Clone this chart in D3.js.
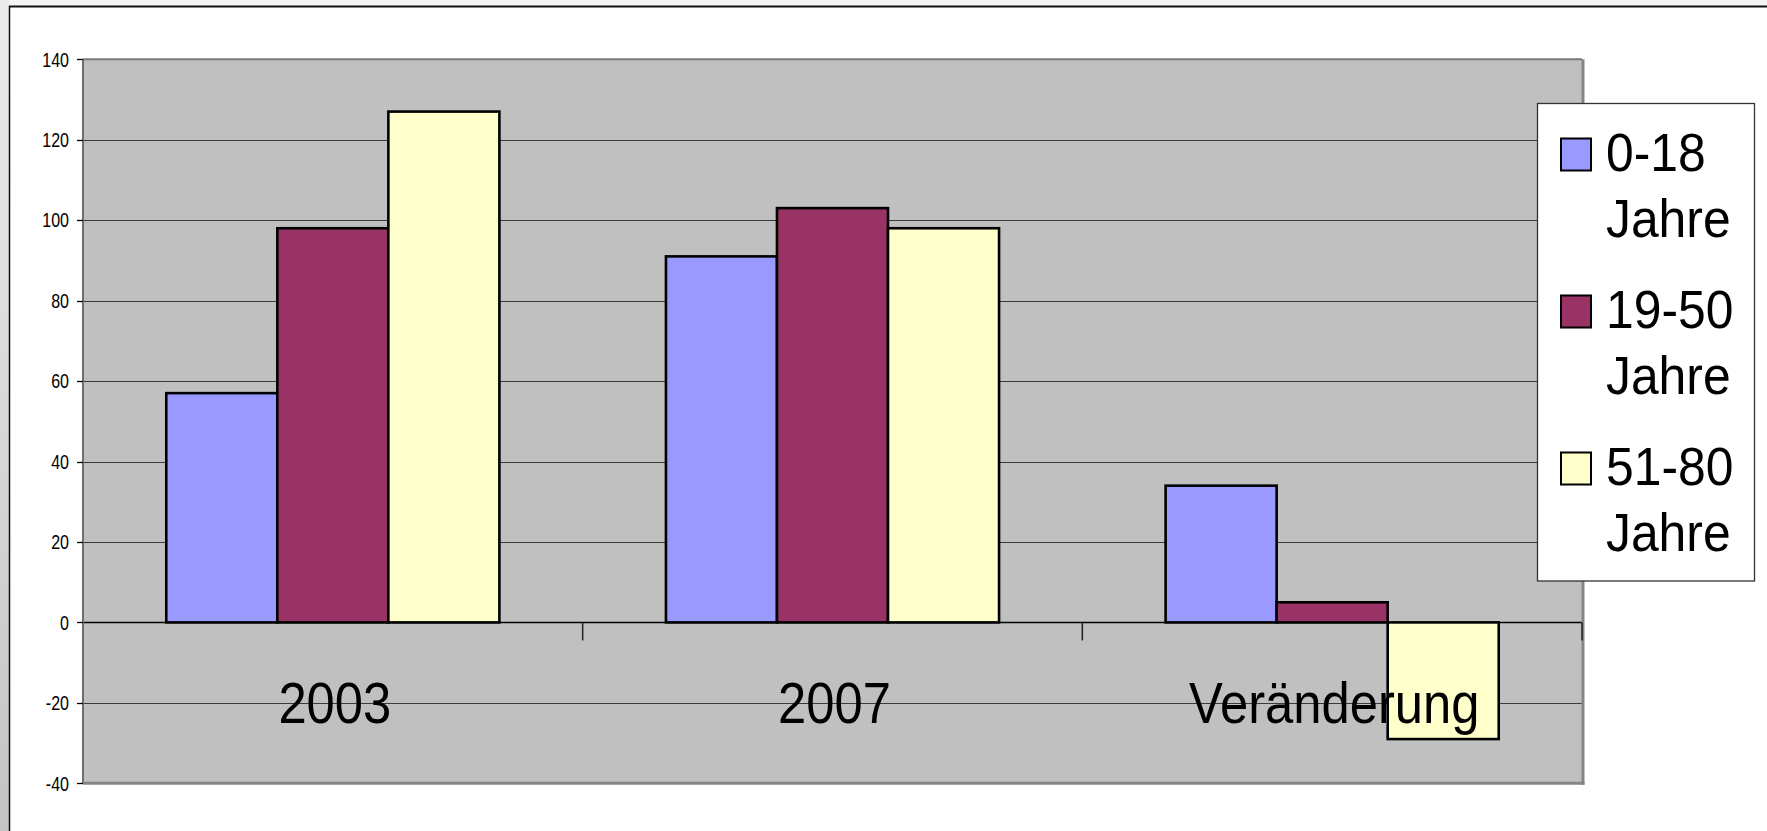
<!DOCTYPE html>
<html>
<head>
<meta charset="utf-8">
<script src="https://cdn.jsdelivr.net/npm/d3@7/dist/d3.min.js"></script>
<style>
  html, body { margin: 0; padding: 0; background: #f4f4f4; }
  svg { display: block; }
  text { font-family: "Liberation Sans", Arial, sans-serif; fill: #000; }
</style>
</head>
<body>
<svg id="chart" width="1767" height="831"></svg>
<script>
// ---- data ----
const categories = ["2003", "2007", "Veränderung"];
const seriesNames = ["0-18 Jahre", "19-50 Jahre", "51-80 Jahre"];
const legendLines = [["0-18", "Jahre"], ["19-50", "Jahre"], ["51-80", "Jahre"]];
const series0to18 = [57, 91, 34];
const series19to50 = [98, 103, 5];
const series51to80 = [127, 98, -29];
const seriesColors = ["#9999FF", "#993366", "#FFFFCC"];
const yTicks = [-40, -20, 0, 20, 40, 60, 80, 100, 120, 140];

const seriesValues = [series0to18, series19to50, series51to80];

const svg = d3.select("#chart");

// page background / frame
const defs = svg.append("defs");
const grad = defs.append("linearGradient").attr("id", "leftGrad")
  .attr("x1", 0).attr("y1", 1).attr("x2", 0).attr("y2", 0);
grad.append("stop").attr("offset", "0%").attr("stop-color", "#c4c4c4");
grad.append("stop").attr("offset", "100%").attr("stop-color", "#ececec");
svg.append("rect").attr("x", 0).attr("y", 0).attr("width", 1767).attr("height", 831).attr("fill", "#f4f4f4");
svg.append("rect").attr("x", 0).attr("y", 0).attr("width", 9.5).attr("height", 831).attr("fill", "url(#leftGrad)");
svg.append("rect").attr("x", 10).attr("y", 7).attr("width", 1757).attr("height", 824).attr("fill", "#ffffff");
svg.append("line").attr("x1", 9.5).attr("x2", 9.5).attr("y1", 6).attr("y2", 831).attr("stroke", "#111").attr("stroke-width", 1.5);
svg.append("line").attr("x1", 9).attr("x2", 1767).attr("y1", 6.5).attr("y2", 6.5).attr("stroke", "#111").attr("stroke-width", 2);

// plot geometry
const plot = { left: 83, right: 1582, top: 59.3, bottom: 783.3 };

const y = d3.scaleLinear().domain([-40, 140]).range([plot.bottom, plot.top]);
const x0 = d3.scaleBand().domain(categories).range([plot.left, plot.right]).paddingInner(0).paddingOuter(0);
const bw = x0.bandwidth();
const x1 = d3.scaleBand().domain(d3.range(seriesNames.length)).range([bw / 6, bw * 5 / 6]).padding(0);

// plot area background
svg.append("rect").attr("x", plot.left).attr("y", plot.top)
  .attr("width", plot.right - plot.left).attr("height", plot.bottom - plot.top)
  .attr("fill", "#C0C0C0");

// gridlines
svg.append("g").selectAll("line").data(yTicks.filter(t => t !== 140)).join("line")
  .attr("x1", plot.left).attr("x2", plot.right)
  .attr("y1", d => Math.round(y(d)) + 0.5).attr("y2", d => Math.round(y(d)) + 0.5)
  .attr("stroke", d => d === 0 ? "#000" : "#3a3a3a").attr("stroke-width", d => d === 0 ? 1.6 : 1.2);

// plot borders
svg.append("line").attr("x1", plot.left).attr("x2", plot.right).attr("y1", plot.top).attr("y2", plot.top)
  .attr("stroke", "#7a7a7a").attr("stroke-width", 2);
svg.append("line").attr("x1", plot.left).attr("x2", plot.left).attr("y1", plot.top).attr("y2", plot.bottom)
  .attr("stroke", "#6e6e6e").attr("stroke-width", 2);
svg.append("line").attr("x1", plot.right + 1).attr("x2", plot.right + 1).attr("y1", plot.top).attr("y2", plot.bottom + 1.5)
  .attr("stroke", "#858585").attr("stroke-width", 3);
svg.append("line").attr("x1", plot.left).attr("x2", plot.right + 2.5).attr("y1", plot.bottom).attr("y2", plot.bottom)
  .attr("stroke", "#858585").attr("stroke-width", 3);

// y axis ticks & labels
const yAxisG = svg.append("g");
yAxisG.selectAll("line").data(yTicks).join("line")
  .attr("x1", 77).attr("x2", plot.left)
  .attr("y1", d => Math.round(y(d)) + 0.5).attr("y2", d => Math.round(y(d)) + 0.5)
  .attr("stroke", "#000").attr("stroke-width", 1.3);
yAxisG.selectAll("text").data(yTicks).join("text")
  .attr("transform", d => `translate(69,${y(d) + 7.2}) scale(0.8,1)`)
  .attr("text-anchor", "end")
  .attr("font-size", 20)
  .text(d => d);

// bars
const groups = svg.append("g").selectAll("g").data(categories).join("g")
  .attr("transform", c => `translate(${x0(c)},0)`);
groups.selectAll("rect").data((c, ci) => seriesValues.map((vals, si) => ({ si, v: vals[ci] }))).join("rect")
  .attr("x", d => x1(d.si))
  .attr("width", x1.bandwidth())
  .attr("y", d => y(Math.max(0, d.v)))
  .attr("height", d => Math.abs(y(d.v) - y(0)))
  .attr("fill", d => seriesColors[d.si])
  .attr("stroke", "#000").attr("stroke-width", 2.6);

// x axis tick marks at band boundaries
const bounds = categories.map(c => x0(c) + bw).slice(0, -1).concat([plot.right]);
svg.append("g").selectAll("line").data(bounds).join("line")
  .attr("x1", d => d).attr("x2", d => d)
  .attr("y1", y(0)).attr("y2", y(0) + 18)
  .attr("stroke", "#222").attr("stroke-width", 1.5);

// category labels
svg.append("g").selectAll("text").data(categories).join("text")
  .attr("transform", c => `translate(${x0(c) + bw / 2 + 2},722.7) scale(0.89,1)`)
  .attr("text-anchor", "middle")
  .attr("font-size", 57)
  .text(c => c);

// legend
const legend = svg.append("g");
legend.append("rect").attr("x", 1537.5).attr("y", 103.5).attr("width", 217).attr("height", 477.5)
  .attr("fill", "#fff").attr("stroke", "#333").attr("stroke-width", 1.3);
const legendBase = [171, 328, 485];
const legendItems = legend.selectAll("g").data(seriesNames).join("g");
legendItems.append("rect")
  .attr("x", 1561).attr("y", (d, i) => legendBase[i] - 32.5)
  .attr("width", 30).attr("height", 32)
  .attr("fill", (d, i) => seriesColors[i])
  .attr("stroke", "#000").attr("stroke-width", 2);
legendItems.each(function (d, i) {
  const g = d3.select(this);
  legendLines[i].forEach((ln, li) => {
    g.append("text")
      .attr("transform", `translate(1606,${legendBase[i] + li * 66}) scale(0.94,1)`)
      .attr("font-size", 53)
      .text(ln);
  });
});
</script>
</body>
</html>
